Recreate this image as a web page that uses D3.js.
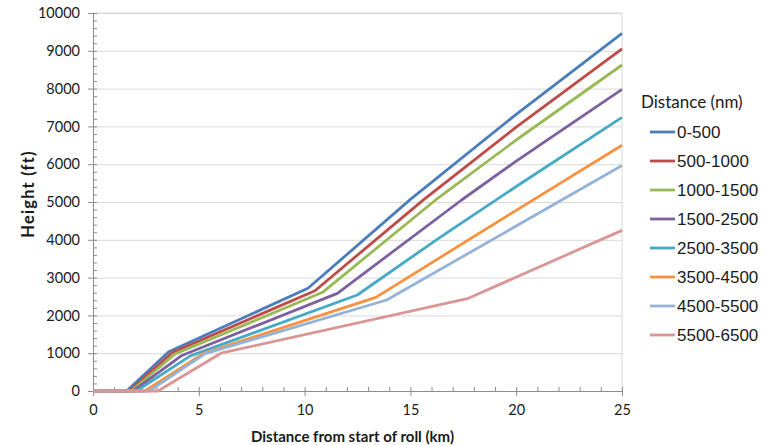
<!DOCTYPE html>
<html>
<head>
<meta charset="utf-8">
<script src="https://cdn.jsdelivr.net/npm/d3@7"></script>
<style>
    body { margin: 0; background: #fff; }
    .chart { width: 763px; height: 445px; }
    .axis text { font-family: Lato, sans-serif; font-size: 14.5px; fill: #1a1a1a; }
    .axis path, .axis line { stroke: #8c8c8c; }
    .grid line { stroke: #d9d9d9; }
    .grid path { display: none; }
    .axis-title { font-family: Lato, sans-serif; font-size: 15px; font-weight: bold; fill: #1a1a1a; }
    .y-title { font-size: 16.5px; letter-spacing: 1.2px; }
    .legend text { font-family: "Liberation Sans", Arial, sans-serif; font-size: 17px; fill: #1a1a1a; }
    .legend .legend-title { font-family: Lato, sans-serif; font-size: 17px; }
    .series { fill: none; stroke-width: 2.8px; stroke-linejoin: round; }
</style>
</head>
<body>
<div class="chart"></div>
<script>

let chart = {};

//series names, colours and [km, ft] points
let seriesNames = ["0-500", "500-1000", "1000-1500", "1500-2500", "2500-3500", "3500-4500", "4500-5500", "5500-6500"];

let seriesColors = ["#4a7ebb", "#be4b48", "#98b954", "#7d60a0", "#46aac5", "#f69240", "#95b3d7", "#d99694"];

let s0_500 = [[0, 0], [1.59, 0], [3.58, 1040], [10.16, 2717], [15, 5070], [20, 7320], [25, 9460]];
let s500_1000 = [[0, 0], [1.72, 0], [3.75, 1020], [10.49, 2653], [15.6, 5050], [20, 6980], [25, 9050]];
let s1000_1500 = [[0, 0], [1.8, 0], [3.88, 980], [10.85, 2611], [16.16, 5040], [20, 6640], [25, 8624]];
let s1500_2500 = [[0, 0], [1.9, 0], [4.2, 940], [11.55, 2584], [17.42, 5053], [20, 6080], [25, 7981]];
let s2500_3500 = [[0, 0], [2.05, 0], [4.6, 930], [12.49, 2540], [16.4, 4066], [20, 5410], [25, 7240]];
let s3500_4500 = [[0, 0], [2.45, 0], [5.2, 990], [13.37, 2478], [20, 4780], [25, 6500]];
let s4500_5500 = [[0, 0], [2.65, 0], [5.3, 990], [13.88, 2407], [20, 4365], [25, 5965]];
let s5500_6500 = [[0, 0], [3.07, 0], [6.05, 1000], [17.74, 2452], [25, 4250]];

let seriesPoints = [s0_500, s500_1000, s1000_1500, s1500_2500, s2500_3500, s3500_4500, s4500_5500, s5500_6500];

let xTicks = [0, 5, 10, 15, 20, 25];
let yTicks = [0, 1000, 2000, 3000, 4000, 5000, 6000, 7000, 8000, 9000, 10000];

init();

function init() {
    chart.theData = seriesNames.map((name, i) => {
        return {
            name: name,
            color: seriesColors[i],
            values: seriesPoints[i].map(p => ({ km: p[0], ft: p[1] }))
        }
    });

    appendElements();
    update();
}

function update() {
    setDimensions();
    setScales();
    updateElements();
}

function setDimensions() {
    chart.margin = { top: 13, right: 141, bottom: 54, left: 93 };
    chart.width = 763 - chart.margin.left - chart.margin.right;
    chart.height = 445 - chart.margin.top - chart.margin.bottom;
}

function setScales() {
    chart.xScale = d3.scaleLinear()
        .range([0, chart.width])
        .domain([0, 25]);

    chart.yScale = d3.scaleLinear()
        .range([chart.height, 0])
        .domain([0, 10000]);

    chart.line = d3.line()
        .x(d => chart.xScale(d.km))
        .y(d => chart.yScale(d.ft));
}

function appendElements() {
    chart.svg = d3.select(".chart").append("svg");
    chart.plot = chart.svg.append("g").attr("class", "chart-g");

    chart.grid = chart.plot.append("g").classed("grid", true);
    chart.frame = chart.plot.append("path").attr("class", "frame");

    chart.xMinor = chart.plot.append("g").classed("axis x-minor", true);
    chart.yMinor = chart.plot.append("g").classed("axis y-minor", true);
    chart.xAxis = chart.plot.append("g").classed("axis x-axis", true);
    chart.yAxis = chart.plot.append("g").classed("axis y-axis", true);

    chart.linePath = chart.plot.selectAll(".series")
        .data(chart.theData)
        .enter()
        .append("path")
        .attr("class", "series");

    chart.xTitle = chart.svg.append("text").attr("class", "axis-title");
    chart.yTitle = chart.svg.append("text").attr("class", "axis-title y-title");

    chart.legend = chart.svg.append("g").attr("class", "legend");
}

function updateElements() {
    chart.svg.attr("width", 763).attr("height", 445);
    chart.plot.attr("transform", `translate(${chart.margin.left},${chart.margin.top})`);

    //horizontal gridlines
    chart.grid.call(
        d3.axisLeft(chart.yScale)
        .tickValues(yTicks.slice(1))
        .tickSize(-chart.width)
        .tickFormat("")
    );

    //light border on top and right of the plot area
    chart.frame
        .attr("d", `M0,0H${chart.width}V${chart.height}`)
        .attr("fill", "none")
        .attr("stroke", "#d9d9d9");

    //minor ticks point inward
    chart.xMinor.attr("transform", `translate(0,${chart.height})`)
        .call(d3.axisBottom(chart.xScale).ticks(25).tickSize(-4).tickFormat(""));
    chart.xMinor.select(".domain").remove();

    chart.yMinor
        .call(d3.axisLeft(chart.yScale).tickValues(d3.range(0, 10001, 200)).tickSize(-4).tickFormat(""));
    chart.yMinor.select(".domain").remove();

    chart.xAxis.attr("transform", `translate(0,${chart.height})`)
        .call(d3.axisBottom(chart.xScale).tickValues(xTicks).tickSize(5).tickSizeOuter(5).tickPadding(9));

    chart.yAxis
        .call(d3.axisLeft(chart.yScale).tickValues(yTicks).tickFormat(d3.format("d")).tickSize(5).tickSizeOuter(5).tickPadding(8));

    chart.linePath
        .attr("d", d => chart.line(d.values))
        .attr("stroke", d => d.color);

    chart.xTitle
        .attr("x", chart.margin.left + chart.width / 2 - 5)
        .attr("y", 442)
        .attr("text-anchor", "middle")
        .text("Distance from start of roll (km)");

    chart.yTitle
        .attr("transform", "translate(34,194) rotate(-90)")
        .attr("text-anchor", "middle")
        .text("Height (ft)");

    //legend
    chart.legend.append("text")
        .attr("class", "legend-title")
        .attr("x", 641)
        .attr("y", 108)
        .text("Distance (nm)");

    let item = chart.legend.selectAll(".legend-item")
        .data(chart.theData)
        .enter()
        .append("g")
        .attr("class", "legend-item")
        .attr("transform", (d, i) => `translate(650,${132 + i * 29})`);

    item.append("line")
        .attr("x1", 0)
        .attr("x2", 25)
        .attr("stroke", d => d.color)
        .attr("stroke-width", 2.8);

    item.append("text")
        .attr("x", 27)
        .attr("y", 6)
        .text(d => d.name);
}

</script>
</body>
</html>
